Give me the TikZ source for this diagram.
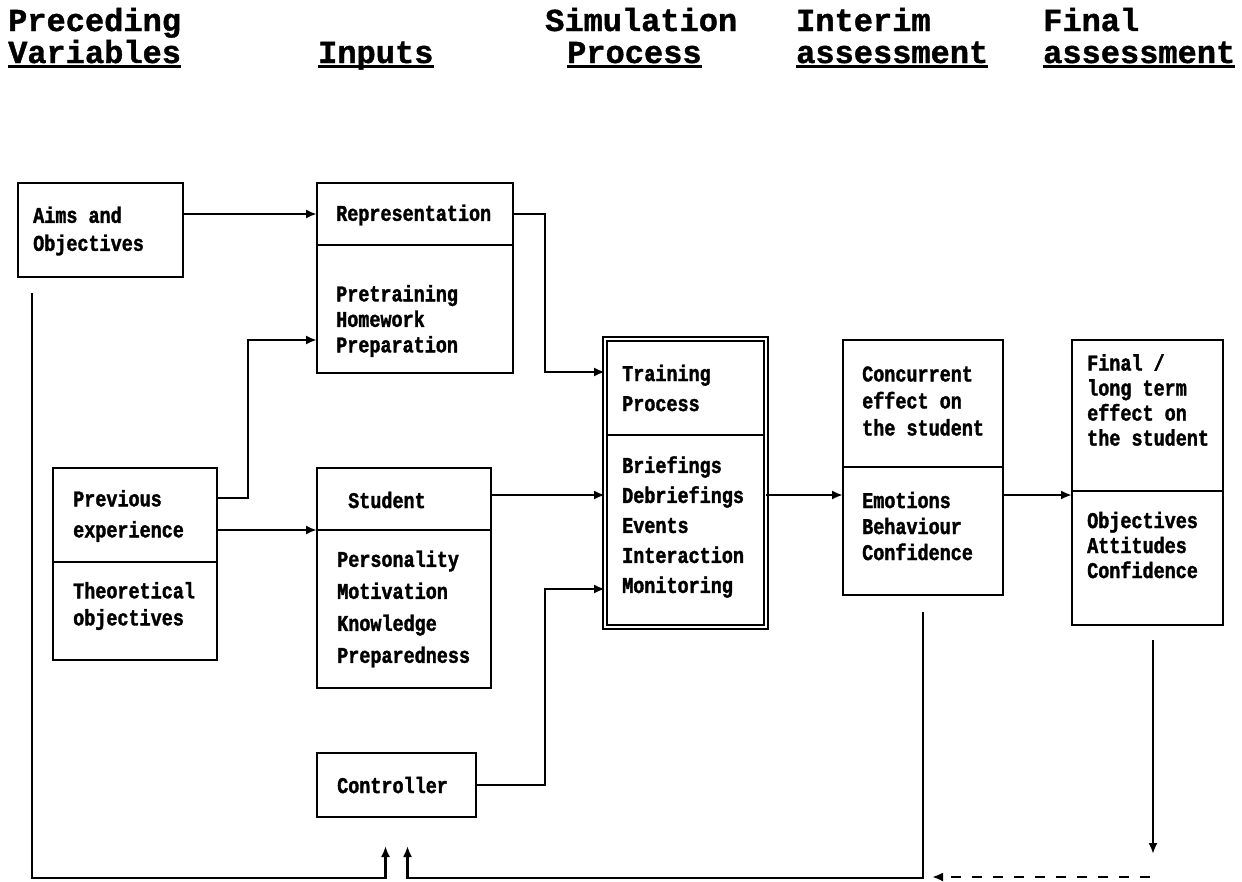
\documentclass[tikz,border=0pt]{standalone}
\usepackage{fontspec}
\newfontfamily\headfont{Liberation Mono}[FakeBold=1.2]
\newfontfamily\boxfont{Liberation Mono}[FakeStretch=0.82, FakeBold=1.6]
\usetikzlibrary{arrows.meta}
\begin{document}
\begin{tikzpicture}[x=1pt,y=-1pt,
  part/.style={draw, line width=2.3pt, inner sep=0pt, outer sep=0pt, anchor=north west},
  txt/.style={anchor=west, inner sep=0pt, align=left, font=\boxfont\bfseries\fontsize{22.5}{#1}\selectfont},
  txt/.default=26,
  head/.style={anchor=base west, inner sep=0pt, font=\headfont\bfseries\fontsize{32}{32}\selectfont},
  arr/.style={line width=2.2pt, -{Latex[length=11pt,width=9pt]}},
  link/.style={line width=2.2pt}]
\fill[white] (0,0) rectangle (1242,881);
\useasboundingbox (0,0) rectangle (1242,881);

% column headings
\node[head] (h1a) at (8,31) {Preceding};
\node[head] (h1b) at (8,63) {Variables};
\node[head] (h2b) at (318,63) {Inputs};
\node[head] (h3a) at (545,31) {Simulation};
\node[head] (h3b) at (567,63) {Process};
\node[head] (h4a) at (796,31) {Interim};
\node[head] (h4b) at (796,63) {assessment};
\node[head] (h5a) at (1043,31) {Final};
\node[head] (h5b) at (1043,63) {assessment};
\foreach \n in {h1b,h2b,h3b,h4b,h5b}
  \draw[line width=2.6pt] ([yshift=-3.5pt]\n.base west) -- ([yshift=-3.5pt]\n.base east);

% boxes
\node[part, minimum width=165pt, minimum height=94pt] (aims) at (18,183) {};
\node[part, minimum width=196pt, minimum height=62pt] (repA) at (317,183) {};
\node[part, minimum width=196pt, minimum height=128pt] (repB) at (317,245) {};
\node[part, minimum width=164pt, minimum height=94pt] (prevA) at (53,468) {};
\node[part, minimum width=164pt, minimum height=98pt] (prevB) at (53,562) {};
\node[part, minimum width=174pt, minimum height=62pt] (stuA) at (317,468) {};
\node[part, minimum width=174pt, minimum height=158pt] (stuB) at (317,530) {};
\node[part, minimum width=159pt, minimum height=64pt] (ctrl) at (317,753) {};
\node[part, double, line width=1.8pt, double distance=1.6pt, minimum width=161pt, minimum height=288pt] (tr) at (605,339) {};
\draw[link] ([xshift=2.5pt]tr.west |- 0,435) -- ([xshift=-2.5pt]tr.east |- 0,435);
\node[part, minimum width=160pt, minimum height=127pt] (conA) at (843,340) {};
\node[part, minimum width=160pt, minimum height=128pt] (conB) at (843,467) {};
\node[part, minimum width=151pt, minimum height=151pt] (finA) at (1072,340) {};
\node[part, minimum width=151pt, minimum height=134pt] (finB) at (1072,491) {};

% box texts
\node[txt=28] (tAims) at (33,231) {Aims and\\Objectives};
\node[txt] (tRepA) at (336,215) {Representation};
\node[txt=25.5] (tRepB) at (336,321) {Pretraining\\Homework\\Preparation};
\node[txt=31] (tPrevA) at (73,516) {Previous\\experience};
\node[txt=27] (tPrevB) at (73,606) {Theoretical\\objectives};
\node[txt] (tStuA) at (348,500) {Student};
\node[txt=32] (tStuB) at (337,609) {Personality\\Motivation\\Knowledge\\Preparedness};
\node[txt] (tCtrl) at (337,785) {Controller};
\node[txt=30] (tTrA) at (622,388) {Training\\Process};
\node[txt=30] (tTrB) at (622,527) {Briefings\\Debriefings\\Events\\Interaction\\Monitoring};
\node[txt=27] (tConA) at (862,401) {Concurrent\\effect on\\the student};
\node[txt=26] (tConB) at (862,526) {Emotions\\Behaviour\\Confidence};
\node[txt=25] (tFinA) at (1087,400) {Final /\\long term\\effect on\\the student};
\node[txt=25] (tFinB) at (1087,545) {Objectives\\Attitudes\\Confidence};

% connectors
\coordinate (lvl) at (0,495);
\draw[arr] (aims.east |- repA.west) -- (repA.west);
\draw[arr] ([yshift=17pt]prevA.east) -- ++(31,0) |- ([yshift=-31pt]repB.west);
\draw[arr] (prevA.east |- stuA.south) -- (stuA.south west);
\draw[arr] (repA.east) -- ++(32,0) |- ([yshift=111pt]tr.west);
\draw[arr] (stuA.east |- lvl) -- (tr.west |- lvl);
\draw[arr] (ctrl.east) -- ++(69,0) |- ([yshift=-106pt]tr.west);
\draw[arr] (tr.east |- lvl) -- (conB.west |- lvl);
\draw[arr] (conB.east |- lvl) -- (finB.west |- lvl);

% feedback loops
\coordinate (fbL) at (32,293);
\draw[arr] (fbL) |- ([xshift=-11pt,yshift=-61pt]ctrl.south) -- ([xshift=-11pt,yshift=-29pt]ctrl.south);
\draw[arr] ([yshift=-17pt]conB.south) |- ([xshift=11pt,yshift=-61pt]ctrl.south) -- ([xshift=11pt,yshift=-29pt]ctrl.south);
\draw[arr] ([xshift=5.5pt,yshift=-15pt]finB.south) -- ([xshift=5.5pt,yshift=-229pt]finB.south);
\coordinate (dsh) at (1150,877);
\draw[arr, dash pattern=on 10pt off 11pt] (dsh) -- ([xshift=9pt]conB.south |- dsh);
\end{tikzpicture}
\end{document}
